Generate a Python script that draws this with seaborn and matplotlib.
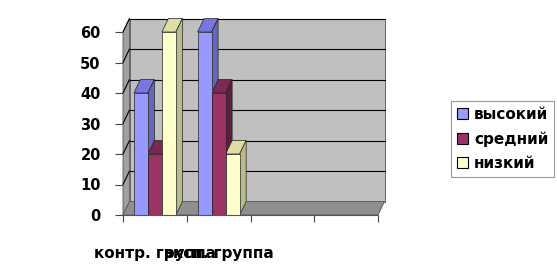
import matplotlib
matplotlib.use("Agg")
import matplotlib.pyplot as plt
import seaborn as sns
import pandas as pd
import numpy as np
from matplotlib.patches import Polygon, Rectangle
from matplotlib.lines import Line2D

categories = ["контр. группа", "эксп. группа"]
series = ["высокий", "средний", "низкий"]
values = {
    "высокий": [40, 60],
    "средний": [20, 40],
    "низкий": [60, 20],
}
yticks = [0, 10, 20, 30, 40, 50, 60]
slots = ["контр. группа", "эксп. группа", " ", "  "]

front_colors = {"высокий": "#9999FF", "средний": "#993366", "низкий": "#FFFFCC"}
top_colors = {"высокий": "#7777DD", "средний": "#7A2952", "низкий": "#DDDDAA"}
side_colors = {"высокий": "#6666BB", "средний": "#5C1F3D", "низкий": "#BBBB88"}

rows = []
for s in series:
    for c, v in zip(categories, values[s]):
        rows.append({"cat": c, "series": s, "val": v})
df = pd.DataFrame(rows)

sns.set_theme(style="white")
plt.rcParams["font.family"] = ["DejaVu Sans"]
plt.rcParams["text.color"] = "black"
plt.rcParams["xtick.color"] = "black"
plt.rcParams["ytick.color"] = "black"

W, H = 557, 276
fig = plt.figure(figsize=(W / 100, H / 100), dpi=100)
fig.patch.set_facecolor("white")
x0, x1 = 123, 378
y0, y1 = 215, 32
ax = fig.add_axes([x0 / W, (H - y0) / H, (x1 - x0) / W, (y0 - y1) / H])

sns.barplot(data=df, x="cat", y="val", hue="series", order=slots, hue_order=series,
            palette=front_colors, width=0.66, ax=ax, legend=False,
            edgecolor="#222222", linewidth=0.5, saturation=1, zorder=5)
ax.set_xlim(-0.5, 3.5)
ax.set_ylim(0, 60)
ax.set_facecolor("none")
for sp in ax.spines.values():
    sp.set_visible(False)

# depth offsets in data units
px_x = 4.0 / (x1 - x0)
px_y = 60.0 / (y0 - y1)
dx = 6.5 * px_x
dy = 13.5 * px_y

wall_kw = dict(clip_on=False, linewidth=0.6, edgecolor="#555555")
# back wall
ax.add_patch(Polygon([(-0.5 + dx, dy), (3.5 + dx, dy), (3.5 + dx, 60 + dy), (-0.5 + dx, 60 + dy)],
                     facecolor="#C0C0C0", zorder=0, **wall_kw))
# left wall
ax.add_patch(Polygon([(-0.5, 0), (-0.5 + dx, dy), (-0.5 + dx, 60 + dy), (-0.5, 60)],
                     facecolor="#A0A0A0", zorder=1, **wall_kw))
# floor
ax.add_patch(Polygon([(-0.5, 0), (3.5, 0), (3.5 + dx, dy), (-0.5 + dx, dy)],
                     facecolor="#8F8F8F", zorder=1, **wall_kw))
# gridlines
for v in yticks[1:]:
    ax.add_line(Line2D([-0.5 + dx, 3.5 + dx], [v + dy, v + dy], color="black", lw=0.8, zorder=2, clip_on=False))
    ax.add_line(Line2D([-0.5, -0.5 + dx], [v, v + dy], color="black", lw=0.8, zorder=2, clip_on=False))

# 3D faces for bars
for i, cont in enumerate(ax.containers):
    for p in cont.patches:
        s = series[i]
        bx, bw, bh = p.get_x(), p.get_width(), p.get_height()
        if not np.isfinite(bh) or bh <= 0:
            continue
        top = Polygon([(bx, bh), (bx + bw, bh), (bx + bw + dx, bh + dy), (bx + dx, bh + dy)],
                      facecolor=top_colors[s], edgecolor="#222222", lw=0.5, zorder=4, clip_on=False)
        side = Polygon([(bx + bw, 0), (bx + bw + dx, dy), (bx + bw + dx, bh + dy), (bx + bw, bh)],
                       facecolor=side_colors[s], edgecolor="#222222", lw=0.5, zorder=4, clip_on=False)
        ax.add_patch(top)
        ax.add_patch(side)
        p.set_clip_on(False)

# axes ticks
ax.set_yticks(yticks)
ax.set_yticklabels([str(v) for v in yticks], fontsize=10.5, fontweight="bold", color="black")
ax.tick_params(axis="y", length=6, width=0.8, color="#444444", pad=10, left=True)
ax.set_xticks([0, 1])
ax.set_xticklabels(categories, fontsize=11, fontweight="bold", color="black")
ax.tick_params(axis="x", length=0, pad=22)
ax.set_xticks([-0.5, 0.5, 1.5, 2.5, 3.5], minor=True)
ax.tick_params(axis="x", which="minor", length=5, width=0.8, color="#444444", bottom=True)
ax.set_xlabel("")
ax.set_ylabel("")
ax.add_line(Line2D([-0.5, 3.5], [0, 0], color="#555555", lw=0.8, zorder=6, clip_on=False))

handles = [Rectangle((0, 0), 1, 1, facecolor=front_colors[s], edgecolor="black", lw=0.8) for s in series]
leg = fig.legend(handles, series, loc="upper left", bbox_to_anchor=(451 / W, 1 - 101 / H),
                 frameon=True, fancybox=False, prop={"weight": "bold", "size": 11},
                 handlelength=0.7, handleheight=0.7, handletextpad=0.4, labelspacing=0.6,
                 borderpad=0.4, borderaxespad=0)
leg.get_frame().set_edgecolor("#808080")
leg.get_frame().set_linewidth(0.8)
for t in leg.get_texts():
    t.set_color("black")

fig.savefig("out.png", dpi=100)
